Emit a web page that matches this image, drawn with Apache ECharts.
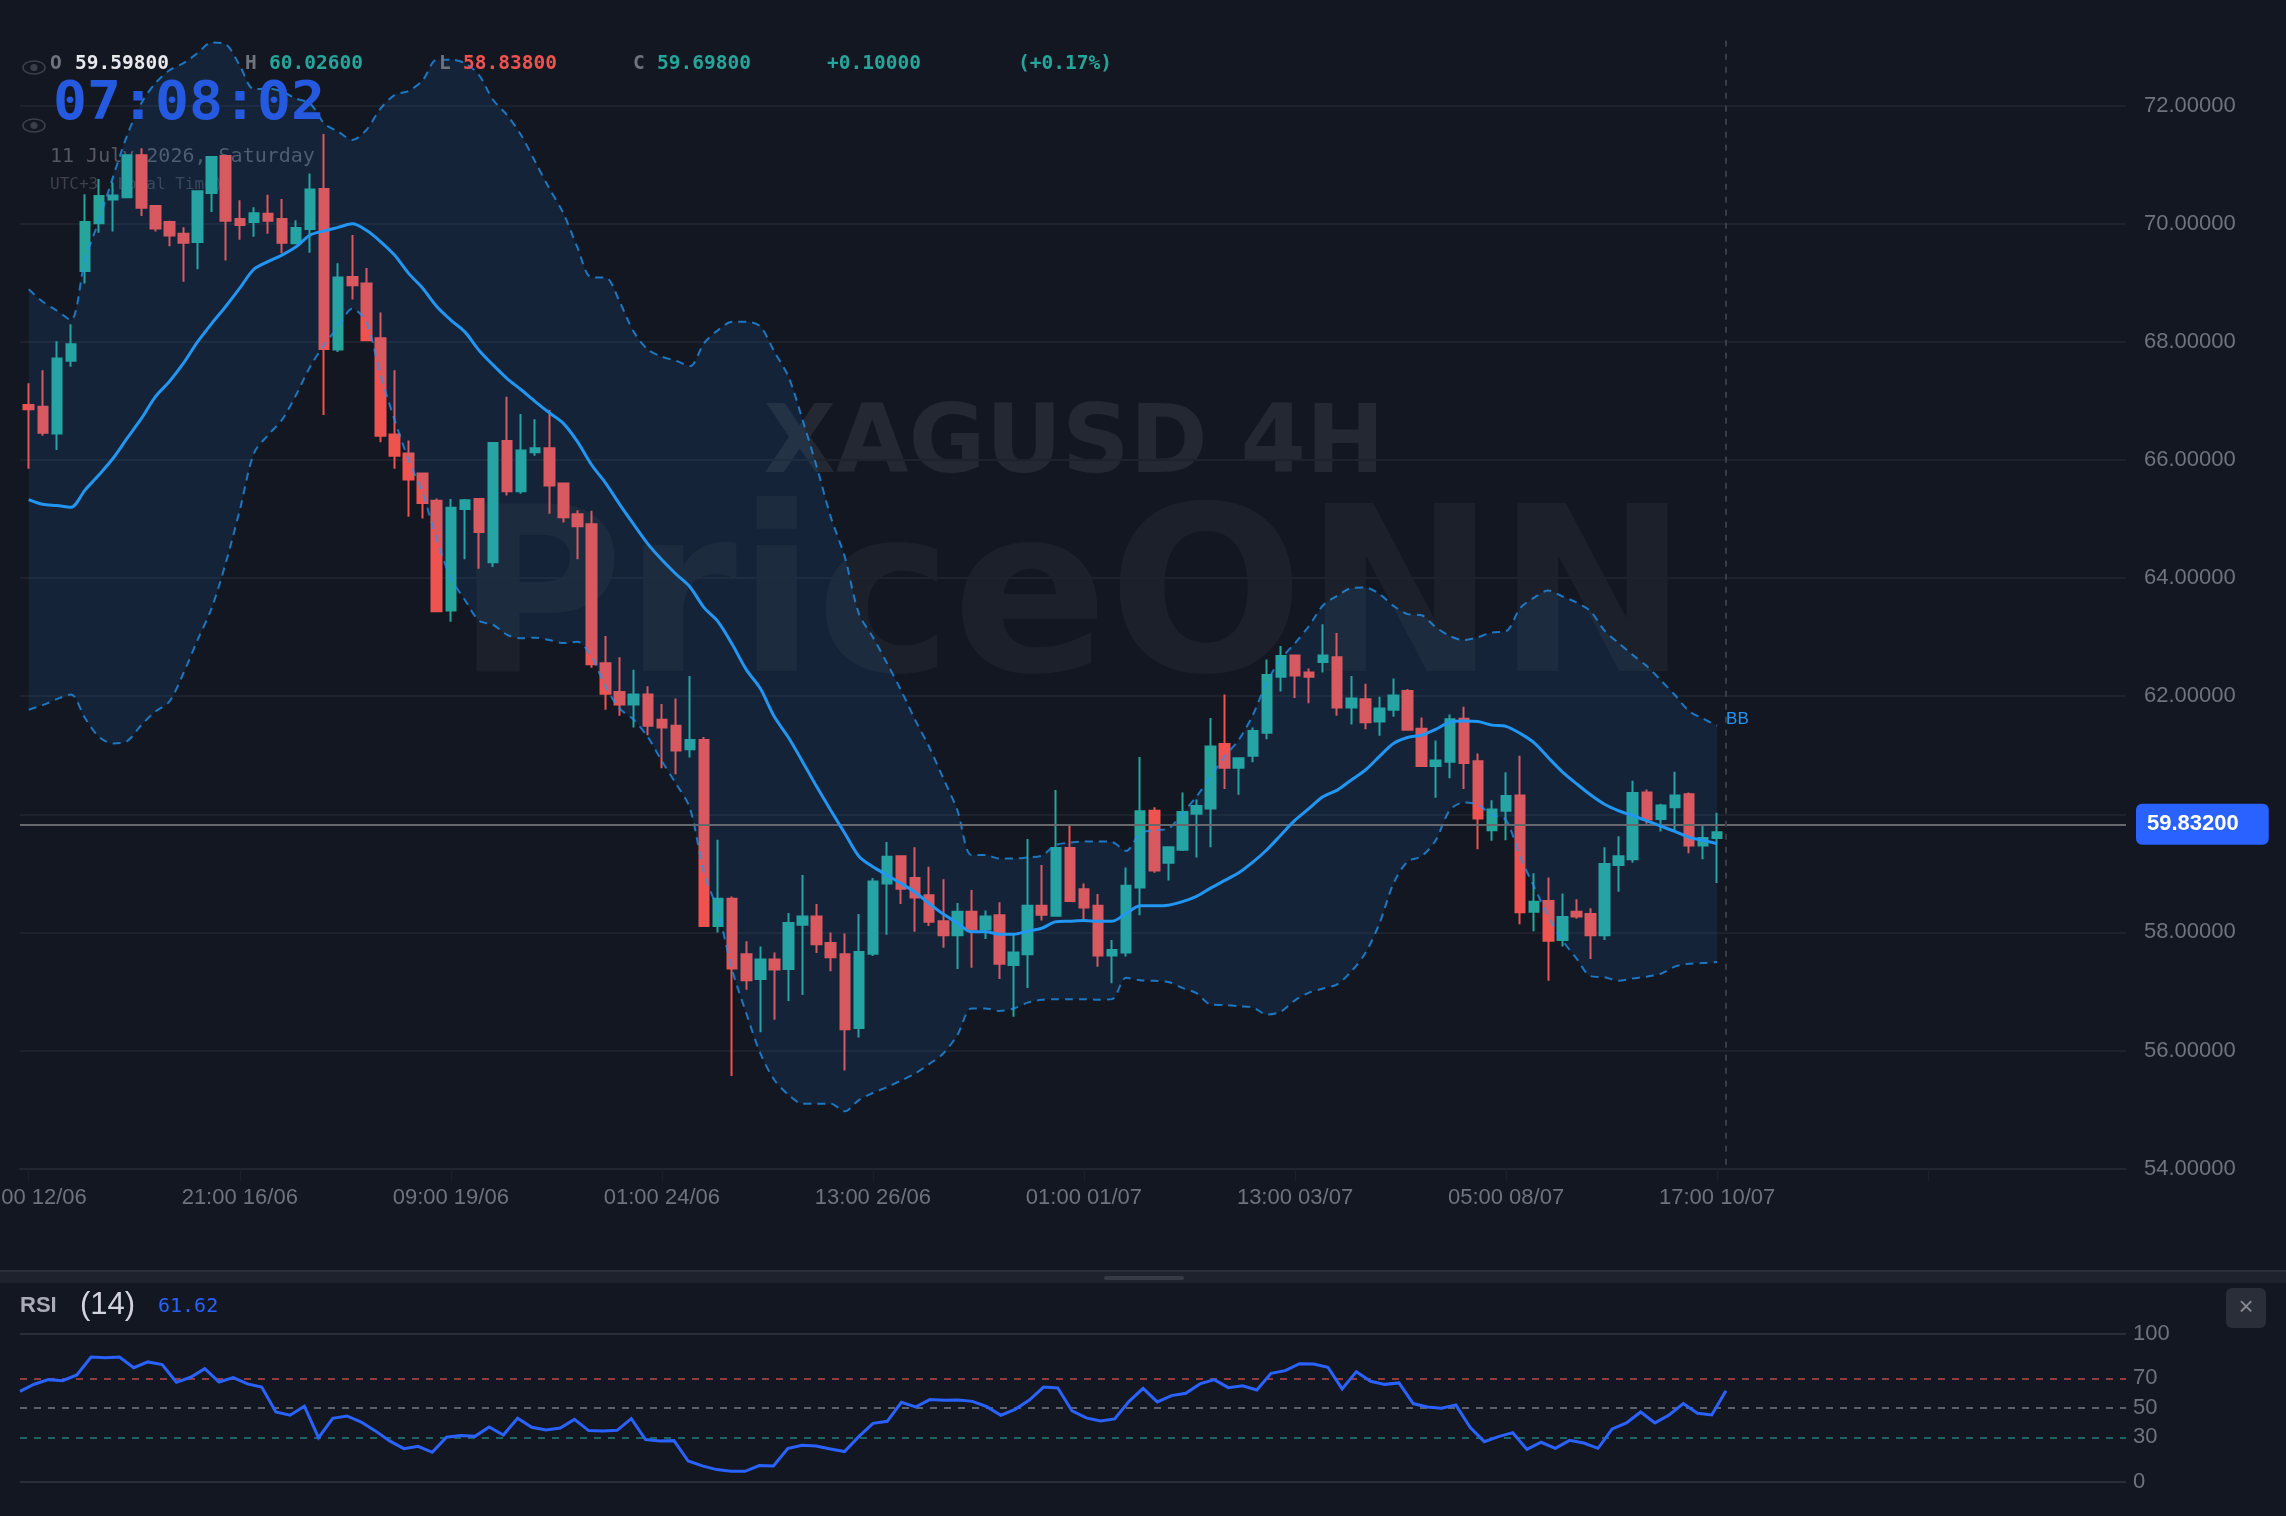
<!DOCTYPE html>
<html>
<head>
<meta charset="utf-8">
<title>XAGUSD 4H</title>
<style>html,body{margin:0;padding:0;background:#131722}#chart{width:2286px;height:1516px}</style>
<script src="https://cdn.jsdelivr.net/npm/echarts@6/dist/echarts.min.js"></script>
</head>
<body>
<div id="chart"></div>
<script>
// XAGUSD 4H candles
const opens = [66.93,66.90,66.45,67.68,69.20,70.01,70.41,70.45,71.16,70.30,70.03,69.83,69.69,70.52,71.15,70.08,70.03,70.17,70.08,69.67,
  69.91,70.59,67.87,69.10,68.99,68.06,66.43,66.11,65.77,65.31,63.45,65.17,65.34,64.27,66.32,65.47,66.13,66.20,65.60,65.08,
  64.91,62.56,62.07,61.86,62.03,61.60,61.50,61.10,61.26,58.11,58.57,57.63,57.21,57.54,57.38,58.13,58.27,57.82,57.63,56.38,
  57.64,58.83,59.29,58.92,58.63,58.19,57.95,58.35,58.05,58.29,57.45,57.63,58.45,58.28,59.43,58.73,58.45,57.61,57.66,58.76,
  60.06,59.18,59.40,60.01,60.10,61.19,60.79,60.99,61.38,62.33,62.69,62.40,62.58,62.66,61.81,61.95,61.57,61.77,62.09,61.45,
  60.82,60.89,61.62,60.90,59.73,60.06,60.32,58.35,58.53,57.87,58.35,58.31,57.95,59.14,59.24,60.37,59.92,60.12,60.34,59.47,59.598];
const closes = [66.86,66.46,67.72,67.96,70.03,70.47,70.48,71.16,70.27,69.92,69.80,69.68,70.55,71.13,70.05,69.98,70.18,70.05,69.68,69.93,
  70.58,67.88,69.09,68.96,68.03,66.41,66.07,65.67,65.27,63.44,65.19,65.32,64.78,66.29,65.47,66.16,66.20,65.57,65.03,64.88,
  62.54,62.04,61.86,62.03,61.50,61.47,61.08,61.26,58.11,58.57,57.39,57.19,57.54,57.37,58.16,58.27,57.80,57.58,56.36,57.67,
  58.86,59.28,58.74,58.59,58.18,57.95,58.35,58.05,58.27,57.47,57.66,58.45,58.30,59.43,58.53,58.42,57.61,57.70,58.79,60.05,
  59.05,59.44,60.04,60.14,61.15,60.79,60.95,61.41,62.36,62.68,62.35,62.33,62.69,61.81,61.96,61.56,61.79,62.01,61.43,60.82,
  60.91,61.61,60.87,59.93,60.08,60.31,58.34,58.52,57.86,58.26,58.27,57.95,59.16,59.29,60.36,59.91,60.15,60.32,59.47,59.60,59.698];
const highs = [67.30,67.52,68.01,68.30,70.50,70.76,70.70,71.17,71.28,70.30,70.05,69.94,70.56,71.15,71.16,70.40,70.28,70.49,70.42,70.06,
  70.85,71.52,69.33,69.81,69.25,68.50,67.52,66.33,65.78,65.35,65.34,65.34,65.35,66.30,67.07,66.78,66.69,66.85,65.61,65.15,
  65.14,63.02,62.66,62.45,62.17,61.87,61.96,62.34,61.31,59.57,58.61,57.85,57.76,57.66,58.33,58.97,58.48,58.00,57.98,58.31,
  58.92,59.53,59.30,59.44,59.11,58.90,58.50,58.72,58.37,58.51,57.96,59.58,59.14,60.41,59.83,58.83,58.65,57.87,59.10,60.97,
  60.12,59.45,60.37,60.25,61.63,62.03,60.96,61.47,62.62,62.85,62.70,62.47,63.22,63.07,62.34,62.21,61.99,62.30,62.12,61.64,
  61.25,61.69,61.82,61.03,60.24,60.71,60.99,59.00,58.93,58.66,58.56,58.41,59.44,59.63,60.57,60.42,60.18,60.72,60.37,59.82,60.026];
const lows = [65.85,66.41,66.17,67.58,68.99,69.85,69.87,70.44,70.13,69.87,69.62,69.02,69.23,70.20,69.38,69.73,69.78,69.83,69.50,69.66,
  69.51,66.76,67.83,68.72,68.02,66.30,65.85,65.04,65.01,63.43,63.26,64.32,64.16,64.19,65.40,65.43,66.07,65.09,64.94,64.32,
  62.48,61.77,61.67,61.47,61.34,60.78,60.68,60.96,58.10,58.00,55.57,57.03,56.31,56.52,56.84,56.94,57.65,57.34,55.66,56.22,
  57.60,57.96,58.48,58.01,58.11,57.74,57.38,57.40,57.89,57.21,56.57,57.06,58.20,58.27,58.52,58.22,57.42,57.14,57.59,58.29,
  59.01,58.88,59.38,59.27,59.44,60.43,60.33,60.88,61.27,62.08,61.97,61.88,62.40,61.67,61.52,61.44,61.33,61.65,61.42,60.81,
  60.28,60.61,60.43,59.41,59.55,59.56,58.14,58.02,57.18,57.76,58.23,57.55,57.87,58.69,59.18,59.84,59.71,59.73,59.34,59.24,58.838];

// Bollinger bands
const bbUpper = [68.89,68.68,68.53,68.37,69.39,70.06,70.80,71.50,72.04,72.38,72.60,72.72,72.89,73.07,73.04,72.68,72.28,72.29,72.24,72.12,
  72.04,71.70,71.56,71.42,71.59,71.95,72.18,72.25,72.43,72.78,72.78,72.72,72.52,72.10,71.84,71.50,71.05,70.60,70.18,69.60,
  69.09,69.09,68.68,68.17,67.87,67.75,67.68,67.59,67.98,68.20,68.34,68.34,68.26,67.83,67.41,66.68,65.89,65.04,64.36,63.40,
  63.00,62.56,62.10,61.60,61.14,60.61,60.07,59.31,59.31,59.25,59.25,59.27,59.30,59.48,59.52,59.54,59.54,59.53,59.38,59.68,
  59.73,59.76,60.02,60.30,60.64,60.98,61.26,61.68,62.24,62.63,62.90,63.19,63.54,63.70,63.83,63.84,63.73,63.53,63.39,63.37,
  63.17,63.02,62.95,63.00,63.08,63.10,63.49,63.67,63.79,63.69,63.59,63.44,63.11,62.90,62.70,62.51,62.27,62.02,61.75,61.62,61.50];
const bbMiddle = [65.33,65.25,65.23,65.20,65.49,65.75,66.03,66.37,66.70,67.07,67.33,67.64,68.00,68.31,68.60,68.91,69.23,69.36,69.47,69.61,
  69.81,69.88,69.94,70.00,69.89,69.70,69.47,69.16,68.91,68.60,68.37,68.17,67.86,67.61,67.38,67.19,66.99,66.80,66.62,66.31,
  65.92,65.61,65.25,64.91,64.58,64.31,64.07,63.85,63.50,63.26,62.88,62.45,62.13,61.65,61.30,60.89,60.47,60.07,59.68,59.29,
  59.11,58.97,58.83,58.68,58.49,58.31,58.16,58.01,58.01,57.97,57.97,58.02,58.07,58.18,58.19,58.20,58.19,58.19,58.32,58.45,
  58.45,58.46,58.52,58.61,58.75,58.88,59.01,59.19,59.40,59.65,59.90,60.10,60.30,60.41,60.58,60.75,60.98,61.20,61.30,61.34,
  61.44,61.56,61.58,61.57,61.51,61.49,61.37,61.21,60.96,60.72,60.52,60.33,60.17,60.06,59.98,59.89,59.80,59.71,59.61,59.56,59.50];
const bbLower = [61.77,61.85,61.95,62.03,61.63,61.31,61.20,61.24,61.51,61.74,61.91,62.39,62.95,63.49,64.25,65.15,66.11,66.42,66.68,67.10,
  67.58,67.95,68.26,68.56,68.34,67.44,66.68,66.00,65.44,64.65,64.00,63.63,63.28,63.21,63.04,62.98,62.99,62.95,62.90,62.92,
  62.67,62.16,61.79,61.60,61.31,60.90,60.52,60.10,59.00,58.35,57.36,56.63,55.95,55.50,55.25,55.10,55.10,55.10,54.97,55.16,
  55.28,55.38,55.49,55.61,55.77,55.95,56.26,56.71,56.71,56.67,56.71,56.81,56.86,56.87,56.87,56.87,56.86,56.87,57.23,57.19,
  57.18,57.16,57.06,56.97,56.78,56.77,56.75,56.73,56.61,56.66,56.85,56.98,57.05,57.12,57.34,57.65,58.15,58.83,59.20,59.29,
  59.56,60.07,60.20,60.16,59.99,59.90,59.28,58.77,58.27,57.87,57.56,57.26,57.24,57.18,57.22,57.25,57.30,57.42,57.47,57.48,57.50];

// RSI (14)
const rsiValues = [61.2,66.0,69.1,68.4,72.3,84.4,84.0,84.4,77.2,81.1,79.3,67.3,70.7,76.5,67.5,70.5,66.2,64.1,47.2,45.0,
  51.1,29.8,42.9,44.5,40.4,34.4,27.6,22.4,24.0,19.9,30.1,31.2,30.7,37.1,31.6,42.9,36.8,35.0,36.4,42.2,
  34.6,34.4,34.8,42.7,28.5,27.6,27.8,14.0,10.7,8.2,7.0,7.0,10.9,10.7,22.4,24.7,24.2,22.2,20.4,30.5,
  39.5,40.9,53.8,50.6,55.6,55.1,55.3,54.4,50.8,45.0,49.0,55.3,64.1,63.5,47.9,43.2,41.1,42.5,54.2,63.2,
  54.0,58.3,59.9,66.2,69.1,63.7,65.0,62.1,73.4,75.2,79.9,79.7,77.5,62.8,74.5,68.0,65.9,66.9,52.9,50.6,
  49.7,52.0,36.8,27.1,30.5,33.2,21.9,26.7,22.6,28.0,26.2,22.6,35.7,39.8,47.2,39.8,45.2,52.9,46.3,45.2,61.62];
const rsiTicks = [0, 30, 50, 70, 100];

// Time axis labels, one every 15 candles
const timeLabels = ['09:00 12/06','21:00 16/06','09:00 19/06','01:00 24/06','13:00 26/06','01:00 01/07','13:00 03/07','05:00 08/07','17:00 10/07'];
const lastPrice = 59.832;

const UP = '#26a69a', DOWN = '#ef5350', BAND = '#2196f3';
const GRID_LINE = '#1e222c', MUTED = '#6f737e';
const SANS = '"Liberation Sans", Arial, sans-serif';
const MONO = '"DejaVu Sans Mono", monospace';

// Room to the right of the last candle, so the candle scale reaches the edge of the plot
const SLOTS = 150;
const categories = Array.from({length: SLOTS}, (_, i) => String(i));
const candles = opens.map((o, i) => [o, closes[i], lows[i], highs[i]]);
const xy = arr => arr.map((v, i) => [i, v]);
const bandWidths = bbUpper.map((v, i) => +(v - bbLower[i]).toFixed(2));
const rsiEnd = rsiValues.length - 1;
const RSI_X_MAX = 148.14;

function text(x, y, str, fill, font, size, weight, z, align) {
  return {type: 'text', x, y, z: z == null ? 100 : z, silent: true,
    style: {text: str, fill, fontFamily: font, fontSize: size, fontWeight: weight || 'normal',
            align: align || 'left', verticalAlign: 'middle'}};
}
function eye(x, y) {
  return {type: 'group', x, y, z: 100, silent: true, children: [
    {type: 'ellipse', z: 100, shape: {cx: 11, cy: 6.5, rx: 11, ry: 6.5},
     style: {fill: 'none', stroke: '#3b3f4a', lineWidth: 1.6}},
    {type: 'circle', z: 100, shape: {cx: 11, cy: 6.5, r: 3.6}, style: {fill: '#3b3f4a'}}
  ]};
}

const option = {
  animation: false,
  backgroundColor: '#131722',
  grid: [
    {left: 20, width: 2106, top: -12.4, height: 1181, outerBoundsMode: 'none'},
    {left: 21.67, width: 14.07 * SLOTS, top: -12.4, height: 1181, outerBoundsMode: 'none'},
    {left: 20, width: 2106, top: 1334, height: 147.7, outerBoundsMode: 'none'}
  ],
  xAxis: [
    {gridIndex: 0, type: 'value', min: 0, max: RSI_X_MAX, splitLine: {show: false},
     axisLine: {show: true, onZero: false, lineStyle: {color: '#22262f', width: 2}},
     axisTick: {show: false}, axisLabel: {show: false}},
    {gridIndex: 1, type: 'category', data: categories, boundaryGap: true,
     axisLine: {show: false},
     axisTick: {show: true, alignWithLabel: true, interval: 14, length: 13, lineStyle: {color: '#1b1f29', width: 1}},
     splitLine: {show: false},
     axisLabel: {interval: 14, color: MUTED, fontFamily: SANS, fontSize: 22, margin: 18,
                 formatter: (v, i) => timeLabels[i / 15] || ''}},
    {gridIndex: 2, type: 'value', min: 0, max: RSI_X_MAX, show: false}
  ],
  yAxis: [
    {gridIndex: 0, type: 'value', min: 54, max: 74, interval: 2, position: 'right',
     axisLine: {show: false}, axisTick: {show: false},
     splitLine: {show: true, lineStyle: {color: GRID_LINE, width: 2}},
     axisLabel: {color: MUTED, fontFamily: SANS, fontSize: 22, margin: 18, padding: [2, 0, 0, 0],
                 formatter: v => v.toFixed(5)}},
    {gridIndex: 1, type: 'value', min: 54, max: 74, interval: 2, show: false},
    {gridIndex: 2, type: 'value', min: 0, max: 100, position: 'right',
     axisLine: {show: false}, axisTick: {show: false}, splitLine: {show: false},
     axisLabel: {color: MUTED, fontFamily: SANS, fontSize: 22, margin: 7, padding: [2, 0, 0, 0], customValues: rsiTicks}}
  ],
  series: [
    {type: 'candlestick', name: 'XAGUSD', xAxisIndex: 1, yAxisIndex: 1, z: 2, barWidth: 10,
     data: candles,
     itemStyle: {color: UP, color0: DOWN, borderColor: UP, borderColor0: DOWN, borderWidth: 2}},
    // The band fill sits above the candles, which is what tints them inside the channel
    {type: 'line', name: 'bandBase', xAxisIndex: 1, yAxisIndex: 1, z: 3, stack: 'bb', smooth: 0.3,
     symbol: 'none', lineStyle: {width: 0, opacity: 0}, data: bbLower},
    {type: 'line', name: 'bandFill', xAxisIndex: 1, yAxisIndex: 1, z: 3, stack: 'bb', smooth: 0.3,
     symbol: 'none', lineStyle: {width: 0, opacity: 0},
     areaStyle: {color: 'rgba(33,150,243,0.1)', opacity: 1}, data: bandWidths},
    {type: 'line', name: 'upper', xAxisIndex: 1, yAxisIndex: 1, z: 4, smooth: 0.3, symbol: 'none',
     lineStyle: {color: BAND, width: 2, type: [8, 6], opacity: 0.75}, data: bbUpper,
     endLabel: {show: true, formatter: 'BB', color: BAND, fontFamily: SANS, fontSize: 17, distance: 9, offset: [0, -6]}},
    {type: 'line', name: 'lower', xAxisIndex: 1, yAxisIndex: 1, z: 4, smooth: 0.3, symbol: 'none',
     lineStyle: {color: BAND, width: 2, type: [8, 6], opacity: 0.75}, data: bbLower},
    {type: 'line', name: 'middle', xAxisIndex: 1, yAxisIndex: 1, z: 5, smooth: 0.3, symbol: 'none',
     lineStyle: {color: BAND, width: 3}, data: bbMiddle},
    // Last price line, its tag and the crosshair
    {type: 'line', name: 'price', xAxisIndex: 0, yAxisIndex: 0, z: 6, symbol: 'none', silent: true,
     data: [[0, lastPrice]], lineStyle: {width: 0},
     markLine: {silent: true, symbol: 'none', animation: false, data: [
       {yAxis: lastPrice,
        lineStyle: {color: '#66686e', width: 2, type: 'solid'},
        label: {show: true, position: 'end', distance: 10, formatter: lastPrice.toFixed(5),
                color: '#fff', fontFamily: SANS, fontSize: 22, fontWeight: 'bold',
                backgroundColor: '#2962ff', borderRadius: 6, padding: [10, 30, 9, 11]}},
       [{coord: [rsiEnd, 73.1], lineStyle: {color: '#3a3d46', width: 2, type: [6, 7]}, label: {show: false}},
        {coord: [rsiEnd, 54]}]
     ]}},
    {type: 'line', name: 'RSI', xAxisIndex: 2, yAxisIndex: 2, z: 5, symbol: 'none',
     lineStyle: {color: '#2962ff', width: 3, join: 'miter'}, data: xy(rsiValues),
     markLine: {silent: true, symbol: 'none', animation: false, label: {show: false}, data: [
       {yAxis: 100, lineStyle: {color: '#2a2e39', width: 2, type: 'solid'}},
       {yAxis: 0, lineStyle: {color: '#2a2e39', width: 2, type: 'solid'}},
       {yAxis: 70, lineStyle: {color: 'rgba(239,83,80,0.6)', width: 2, type: [7, 7]}},
       {yAxis: 50, lineStyle: {color: 'rgba(120,123,134,0.75)', width: 2, type: [7, 7]}},
       {yAxis: 30, lineStyle: {color: 'rgba(38,166,154,0.55)', width: 2, type: [7, 7]}}
     ]}}
  ],
  graphic: {elements: [
    // Watermarks
    {type: 'text', x: 1074, y: 448, z: -1, silent: true,
     style: {text: 'XAGUSD 4H', fill: 'rgba(255,255,255,0.075)', fontFamily: '"DejaVu Sans"', fontWeight: 'bold',
             fontSize: 94, align: 'center', verticalAlign: 'middle'}},
    {type: 'text', x: 1072, y: 611, z: -1, silent: true,
     style: {text: 'PriceONN', fill: 'rgba(255,255,255,0.04)', fontFamily: '"DejaVu Sans"', fontWeight: 'bold',
             fontSize: 230, align: 'center', verticalAlign: 'middle'}},
    // Clock block
    eye(23, 61), eye(23, 119),
    {type: 'text', x: 53, y: 105.5, scaleY: 0.93, z: 100, silent: true,
     style: {text: '07:08:02', fill: '#2559e0', fontFamily: MONO, fontSize: 56.5, fontWeight: 'bold',
             align: 'left', verticalAlign: 'middle'}},
    text(50, 157, '11 July 2026, Saturday', '#545862', MONO, 20, 'normal', 1),
    text(50, 185, 'UTC+3 (Local Time)', '#3d414c', MONO, 16, 'normal', 1),
    // OHLC readout
    text(50, 64, 'O', MUTED, MONO, 19.5, 'bold'),
    text(75, 64, '59.59800', '#e8e9ec', MONO, 19.5, 'bold'),
    text(245, 64, 'H', MUTED, MONO, 19.5, 'bold'),
    text(269, 64, '60.02600', UP, MONO, 19.5, 'bold'),
    text(439, 64, 'L', MUTED, MONO, 19.5, 'bold'),
    text(463, 64, '58.83800', DOWN, MONO, 19.5, 'bold'),
    text(633, 64, 'C', MUTED, MONO, 19.5, 'bold'),
    text(657, 64, '59.69800', UP, MONO, 19.5, 'bold'),
    text(827, 64, '+0.10000', UP, MONO, 19.5, 'bold'),
    text(1018, 64, '(+0.17%)', UP, MONO, 19.5, 'bold'),
    // Pane divider and handle
    {type: 'rect', z: 1, silent: true, shape: {x: 0, y: 1270, width: 2286, height: 13}, style: {fill: '#1e222c'}},
    {type: 'rect', z: 1, silent: true, shape: {x: 0, y: 1270, width: 2286, height: 2}, style: {fill: '#2a2e39'}},
    {type: 'rect', z: 1, silent: true, shape: {x: 1104, y: 1276, width: 80, height: 4, r: 2}, style: {fill: '#363a45'}},
    // RSI header
    text(20, 1306, 'RSI', '#a9acb4', SANS, 22, 'bold'),
    text(80, 1305, '(14)', '#d1d4dc', SANS, 31, 'normal'),
    text(158, 1307, '61.62', '#2962ff', MONO, 20, 'normal'),
    // Close button
    {type: 'rect', z: 90, silent: true, shape: {x: 2226, y: 1288, width: 40, height: 40, r: 6}, style: {fill: '#2a2e39'}},
    text(2246, 1308, '×', '#85888f', SANS, 26, 'normal', 100, 'center')
  ]}
};

const chart = echarts.init(document.getElementById('chart'), null, {renderer: 'canvas', width: 2286, height: 1516});
chart.setOption(option);
</script>
</body>
</html>
